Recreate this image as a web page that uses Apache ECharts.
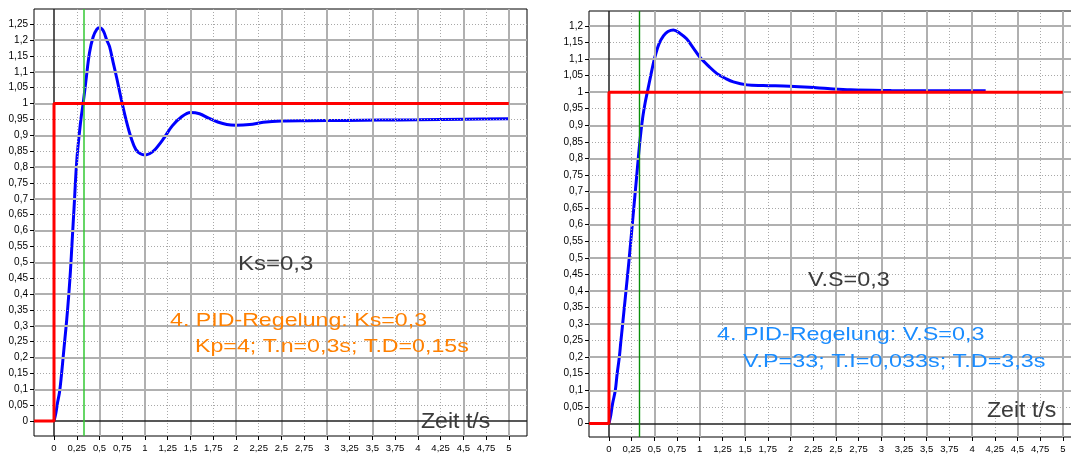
<!DOCTYPE html>
<html><head><meta charset="utf-8">
<script src="https://cdn.jsdelivr.net/npm/echarts@6/dist/echarts.min.js"></script>
<style>html,body{margin:0;padding:0;background:#fff}#c{width:1071px;height:456px}</style>
</head><body><div id="c"></div>
<script>
// ---- tick labels / grid values ----
const xTickValues = [0,0.25,0.5,0.75,1,1.25,1.5,1.75,2,2.25,2.5,2.75,3,3.25,3.5,3.75,4,4.25,4.5,4.75,5];
const yTickValuesLeft = [0,0.05,0.1,0.15,0.2,0.25,0.3,0.35,0.4,0.45,0.5,0.55,0.6,0.65,0.7,0.75,0.8,0.85,0.9,0.95,1,1.05,1.1,1.15,1.2,1.25];
const yTickValuesRight = [0,0.05,0.1,0.15,0.2,0.25,0.3,0.35,0.4,0.45,0.5,0.55,0.6,0.65,0.7,0.75,0.8,0.85,0.9,0.95,1,1.05,1.1,1.15,1.2];
const xMajorGrid = [0.5,1,1.5,2,2.5,3,3.5,4,4.5,5];
const xMinorGrid = [0.25,0.75,1.25,1.75,2.25,2.75,3.25,3.75,4.25,4.75];
const yMajorGrid = [0.1,0.2,0.3,0.4,0.5,0.6,0.7,0.8,0.9,1,1.1,1.2];
const yMinorGridLeft = [0.05,0.15,0.25,0.35,0.45,0.55,0.65,0.75,0.85,0.95,1.05,1.15,1.25];
const yMinorGridRight = [0.05,0.15,0.25,0.35,0.45,0.55,0.65,0.75,0.85,0.95,1.05,1.15];

// ---- series values ----
const tLeft = [0,0.02,0.04,0.06,0.08,0.1,0.12,0.14,0.16,0.18,0.2,0.22,0.25,0.28,0.3,0.32,0.35,0.39,0.43,0.47,0.5,0.54,0.58,0.61,0.65,0.69,0.75,0.8,0.85,0.9,0.95,1.0,1.05,1.1,1.2,1.3,1.4,1.5,1.6,1.7,1.8,1.9,2.0,2.15,2.3,2.5,2.8,3.2,3.6,4.0,4.5,5.0];
const yLeft = [0,0.025,0.06,0.09,0.14,0.2,0.26,0.32,0.39,0.47,0.57,0.67,0.82,0.91,0.96,1.0,1.07,1.16,1.21,1.234,1.239,1.23,1.2,1.18,1.13,1.08,1.0,0.94,0.89,0.855,0.842,0.838,0.842,0.852,0.888,0.93,0.958,0.972,0.968,0.954,0.942,0.934,0.932,0.934,0.941,0.945,0.946,0.947,0.948,0.949,0.951,0.952];
const tRight = [0,0.02,0.04,0.07,0.09,0.114,0.13,0.147,0.18,0.22,0.26,0.3,0.34,0.37,0.4,0.43,0.46,0.5,0.55,0.6,0.65,0.71,0.78,0.855,0.93,1.0,1.1,1.19,1.28,1.37,1.52,1.7,1.99,2.21,2.41,2.66,3.11,3.6,4.15];
const yRight = [0,0.025,0.06,0.1,0.15,0.2,0.245,0.29,0.38,0.49,0.61,0.73,0.85,0.92,0.97,1.01,1.05,1.1,1.145,1.17,1.183,1.188,1.178,1.161,1.133,1.106,1.078,1.056,1.042,1.031,1.022,1.02,1.018,1.015,1.011,1.007,1.005,1.004,1.004];
const setpointTLeft = [-0.22,0,0,5];
const setpointTRight = [-0.22,0,0,5];
const setpointY = [0,0,1,1];
const cursorT = 0.33;

const labelsLeft = {ks:'Ks=0,3', l1:'4. PID-Regelung: Ks=0,3', l2:'Kp=4; T.n=0,3s; T.D=0,15s', axis:'Zeit t/s'};
const labelsRight = {ks:'V.S=0,3', l1:'4. PID-Regelung: V.S=0,3', l2:'V.P=33; T.I=0,033s; T.D=3,3s', axis:'Zeit t/s'};

const zip = (a,b) => a.map((v,i)=>[v,b[i]]);
const fmt = v => String(+(+v).toFixed(2)).replace('.', ',');

function xAxisFor(gi){
  return {type:'value', gridIndex:gi, min:-0.22, max:5.2,
    axisLine:{show:false, onZero:false},
    axisTick:{show:true, length:4, customValues:xTickValues, lineStyle:{color:'#000', width:1}},
    axisLabel:{show:true, customValues:xTickValues, formatter:fmt, margin:7, color:'#000',
      fontFamily:'Liberation Sans Narrow, Liberation Sans, Arial, sans-serif', fontSize:9.5},
    splitLine:{show:false}};
}
function yAxisFor(gi, min, max, ticks){
  return {type:'value', gridIndex:gi, min:min, max:max,
    axisLine:{show:false, onZero:false},
    axisTick:{show:true, length:4, customValues:ticks, lineStyle:{color:'#000', width:1}},
    axisLabel:{show:true, customValues:ticks, formatter:fmt, margin:6, color:'#000',
      fontFamily:'Liberation Sans, Arial, sans-serif', fontSize:10},
    splitLine:{show:false}};
}
function gridSeries(gi, yMinor){
  const major = {color:'#b0b0b0', width:2, type:'solid'};
  const minor = {color:'#a8a8a8', width:1, type:[1,2]};
  const axis0 = {color:'#202020', width:1.5, type:'solid'};
  const d = [];
  xMinorGrid.forEach(v=>d.push({xAxis:v, lineStyle:minor}));
  yMinor.forEach(v=>d.push({yAxis:v, lineStyle:minor}));
  xMajorGrid.forEach(v=>d.push({xAxis:v, lineStyle:major}));
  yMajorGrid.forEach(v=>d.push({yAxis:v, lineStyle:major}));
  d.push({xAxis:0, lineStyle:axis0});
  d.push({yAxis:0, lineStyle:axis0});
  return {type:'line', xAxisIndex:gi, yAxisIndex:gi, data:[], silent:true, z:1,
    markLine:{silent:true, symbol:['none','none'], label:{show:false}, animation:false, data:d}};
}
function curve(gi, t, y){
  return {type:'line', xAxisIndex:gi, yAxisIndex:gi, data:zip(t,y), smooth:0.35, showSymbol:false,
    lineStyle:{color:'#0000ff', width:3}, z:3, silent:true, animation:false};
}
function cursor(gi, color, w){
  return {type:'line', xAxisIndex:gi, yAxisIndex:gi, data:[], silent:true, z:4,
    markLine:{silent:true, symbol:['none','none'], label:{show:false}, animation:false,
      data:[{xAxis:cursorT, lineStyle:{color:color, width:w, type:'solid'}}]}};
}
function setpoint(gi, t){
  return {type:'line', xAxisIndex:gi, yAxisIndex:gi, data:zip(t,setpointY), showSymbol:false,
    lineStyle:{color:'#ff0000', width:3}, z:5, silent:true, animation:false};
}
function txt(x, y, text, size, sx, color){
  return {type:'text', x:x, y:y, scaleX:sx, z:10, silent:true,
    style:{text:text, fontSize:size, fontFamily:'Liberation Sans, Arial, sans-serif', fill:color,
      verticalAlign:'middle', textVerticalAlign:'middle', align:'left', textAlign:'left'}};
}

const chart = echarts.init(document.getElementById('c'), null, {renderer:'canvas'});
chart.setOption({
  animation:false,
  backgroundColor:'#fff',
  grid:[
    {left:34, top:9, width:493, height:427, show:true, borderColor:'#000', borderWidth:1, backgroundColor:'#fff', outerBoundsMode:'none', containLabel:false},
    {left:589, top:11, width:492, height:426, show:true, borderColor:'#000', borderWidth:1, backgroundColor:'#fff', outerBoundsMode:'none', containLabel:false}
  ],
  xAxis:[xAxisFor(0), xAxisFor(1)],
  yAxis:[yAxisFor(0,-0.047,1.298,yTickValuesLeft), yAxisFor(1,-0.041,1.245,yTickValuesRight)],
  series:[
    gridSeries(0, yMinorGridLeft),
    gridSeries(1, yMinorGridRight),
    curve(0, tLeft, yLeft),
    curve(1, tRight, yRight),
    cursor(0, '#33c833', 1.5),
    cursor(1, '#0a8f0a', 1.4),
    setpoint(0, setpointTLeft),
    setpoint(1, setpointTRight)
  ],
  graphic:[
    txt(238, 264, labelsLeft.ks, 20, 1.2, '#3c3c3c'),
    txt(170, 321, labelsLeft.l1, 19, 1.22, '#ff8000'),
    txt(195, 347, labelsLeft.l2, 19, 1.22, '#ff8000'),
    txt(421, 422, labelsLeft.axis, 22, 1.05, '#3c3c3c'),
    txt(808, 280, labelsRight.ks, 20, 1.17, '#3c3c3c'),
    txt(717, 335, labelsRight.l1, 19, 1.23, '#1a8cff'),
    txt(743, 362, labelsRight.l2, 19, 1.23, '#1a8cff'),
    txt(987, 411, labelsRight.axis, 22, 1.05, '#3c3c3c')
  ]
});
</script></body></html>
